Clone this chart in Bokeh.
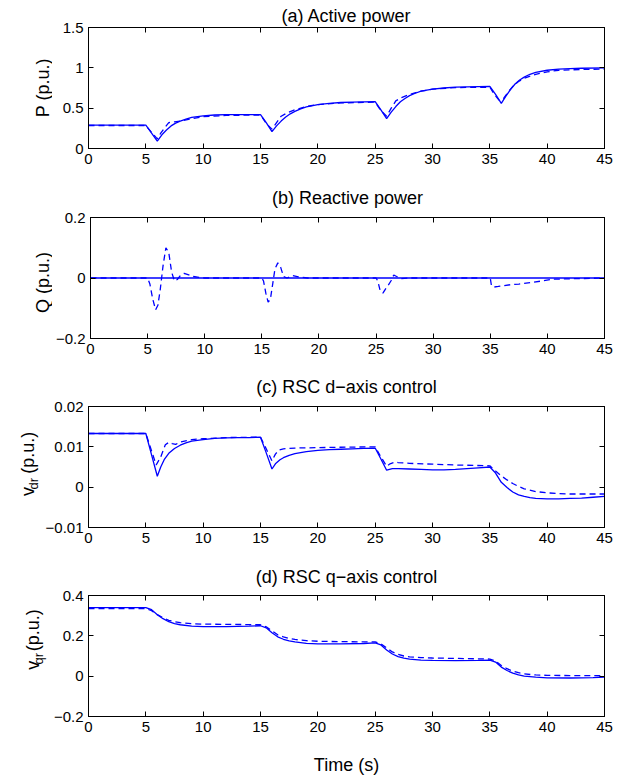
import math
from bokeh.plotting import figure
from bokeh.layouts import column, row
from bokeh.models import LinearAxis, FixedTicker, CustomJSTickFormatter, Range1d, Title
from bokeh.core.properties import value
from bokeh.embed import file_html
from bokeh.resources import INLINE

FONT = "Liberation Sans"
BLUE = "#0000ff"

# ---------------- data ----------------
x_ticks = [0, 5, 10, 15, 20, 25, 30, 35, 40, 45]

p_solid_t = [0, 5, 5.5, 6, 6.4, 6.8, 7.2, 7.6, 8, 8.5, 9, 10, 11, 12, 13, 15, 15.5, 16, 16.4, 16.8, 17.2, 17.6, 18,
             18.5, 19, 20, 21, 22, 23, 25, 25.5, 26, 26.4, 26.8, 27.2, 27.6, 28, 28.5, 29, 30, 31, 32, 33, 35, 35.5,
             36, 36.4, 36.8, 37.2, 37.6, 38, 38.5, 39, 40, 41, 42, 43, 45]
p_solid_v = [0.29, 0.29, 0.19, 0.09, 0.17, 0.23, 0.28, 0.315, 0.34, 0.365, 0.385, 0.405, 0.415, 0.42, 0.42, 0.42,
             0.32, 0.21, 0.28, 0.34, 0.39, 0.43, 0.46, 0.49, 0.515, 0.545, 0.56, 0.57, 0.575, 0.58, 0.48, 0.37, 0.45,
             0.52, 0.58, 0.62, 0.655, 0.685, 0.71, 0.735, 0.75, 0.76, 0.765, 0.77, 0.67, 0.56, 0.65, 0.73, 0.8, 0.85,
             0.885, 0.92, 0.945, 0.97, 0.985, 0.99, 0.995, 1.0]
p_dash_t = [0, 5, 5.5, 6, 6.3, 6.6, 7, 7.5, 8, 9, 10, 12, 15, 15.5, 16, 16.4, 16.8, 17.3, 18, 19, 20, 22, 25, 25.5,
            26, 26.4, 26.8, 27.3, 28, 29, 30, 32, 35, 35.4, 35.8, 36.2, 36.6, 37, 37.5, 38, 39, 40, 41, 43, 45]
p_dash_v = [0.285, 0.285, 0.2, 0.12, 0.19, 0.25, 0.32, 0.33, 0.34, 0.37, 0.395, 0.41, 0.415, 0.31, 0.24, 0.32, 0.4,
            0.44, 0.48, 0.52, 0.545, 0.565, 0.575, 0.47, 0.4, 0.5, 0.59, 0.63, 0.67, 0.71, 0.735, 0.755, 0.76, 0.67,
            0.6, 0.62, 0.7, 0.77, 0.83, 0.87, 0.92, 0.95, 0.97, 0.98, 0.985]

q_solid_t = [0, 5, 6, 7, 15, 16, 25, 26, 35, 36, 45]
q_solid_v = [0, 0, 0, 0, 0, 0, 0, 0, 0, 0, 0]
q_dash_t = [0, 5, 5.2, 5.45, 5.7, 5.9, 6.1, 6.35, 6.6, 6.85, 7.1, 7.35, 7.6, 7.9, 8.2, 8.6, 9, 9.5, 10, 15, 15.15,
            15.35, 15.55, 15.75, 15.95, 16.15, 16.4, 16.65, 16.9, 17.2, 17.7, 18.2, 19, 25, 25.15, 25.35, 25.6,
            25.85, 26.05, 26.3, 26.55, 26.8, 27.2, 28, 35, 35.1, 35.3, 35.7, 36.2, 36.8, 37.5, 38.5, 39.5, 40.5, 45]
q_dash_v = [0, 0, -0.02, -0.07, -0.105, -0.09, -0.04, 0.04, 0.1, 0.085, 0.02, -0.01, -0.005, 0.01, 0.015, 0.01,
            0.005, 0.002, 0, 0, -0.01, -0.05, -0.08, -0.07, -0.02, 0.03, 0.05, 0.035, 0.005, 0.0, 0.008, 0.004, 0,
            0, -0.01, -0.04, -0.05, -0.035, -0.025, -0.01, 0.01, 0.005, -0.002, 0, 0, -0.025, -0.03, -0.028,
            -0.025, -0.022, -0.02, -0.015, -0.01, -0.004, 0]

vdr_solid_t = [0, 5, 5.5, 6, 6.3, 6.6, 7, 7.5, 8, 8.5, 9, 10, 11, 12, 13, 14, 15, 15.5, 16, 16.3, 16.7, 17, 17.5,
               18, 19, 20, 21, 22, 23, 24, 25, 25.5, 26, 26.5, 27, 28, 29, 30, 31, 32, 33, 34, 35, 35.5, 36, 36.5,
               37, 37.5, 38, 38.5, 39, 40, 41, 42, 43, 44, 45]
vdr_solid_v = [0.0133, 0.0133, 0.008, 0.0027, 0.005, 0.0068, 0.0084, 0.0096, 0.0104, 0.011, 0.0114, 0.0118, 0.0121,
               0.0122, 0.0123, 0.0123, 0.0124, 0.0085, 0.0045, 0.0058, 0.0068, 0.0073, 0.0079, 0.0083, 0.0088,
               0.0091, 0.0093, 0.0094, 0.0095, 0.0096, 0.0097, 0.007, 0.0042, 0.0046, 0.0046, 0.0045, 0.0044,
               0.0043, 0.0043, 0.0044, 0.0046, 0.0048, 0.005, 0.0035, 0.0012, -0.0001, -0.0012, -0.0019, -0.0023,
               -0.0026, -0.0028, -0.0029, -0.0029, -0.0028, -0.0027, -0.0025, -0.0023]
vdr_dash_t = [0, 5, 5.5, 5.9, 6.3, 6.7, 7, 7.3, 7.6, 8, 9, 10, 12, 15, 15.5, 16, 16.3, 16.6, 17, 18, 20, 22, 25,
              25.5, 26, 26.3, 26.7, 27, 28, 30, 32, 35, 35.5, 36, 36.5, 37, 37.5, 38, 39, 40, 41, 42, 45]
vdr_dash_v = [0.0133, 0.0133, 0.009, 0.0055, 0.0075, 0.0105, 0.0111, 0.0108, 0.0106, 0.0112, 0.0118, 0.012, 0.0123,
              0.0124, 0.0095, 0.0065, 0.0082, 0.0092, 0.0095, 0.0097, 0.0098, 0.0099, 0.01, 0.0075, 0.0052, 0.0058,
              0.0062, 0.0061, 0.0059, 0.0057, 0.0055, 0.0053, 0.004, 0.0028, 0.0018, 0.0009, 0.0002, -0.0004,
              -0.0011, -0.0014, -0.0016, -0.0017, -0.0017]

vqr_solid_t = [0, 5, 5.5, 6, 6.5, 7, 7.5, 8, 9, 10, 12, 14, 15, 15.5, 16, 16.5, 17, 17.5, 18, 19, 20, 22, 24, 25,
               25.5, 26, 26.5, 27, 27.5, 28, 29, 30, 32, 34, 35, 35.5, 36, 36.5, 37, 37.5, 38, 39, 40, 42, 44, 45]
vqr_solid_v = [0.34, 0.34, 0.33, 0.305, 0.285, 0.27, 0.26, 0.255, 0.248, 0.246, 0.246, 0.248, 0.25, 0.24, 0.215,
               0.195, 0.183, 0.175, 0.17, 0.163, 0.16, 0.16, 0.162, 0.165, 0.155, 0.13, 0.11, 0.097, 0.09, 0.085,
               0.08, 0.078, 0.077, 0.078, 0.08, 0.07, 0.045, 0.028, 0.015, 0.006, 0.0, -0.005, -0.008, -0.009,
               -0.007, -0.005]
vqr_dash_t = [0, 5, 5.5, 6, 6.5, 7, 7.5, 8, 9, 10, 12, 15, 15.5, 16, 16.5, 17, 17.5, 18, 19, 20, 22, 25, 25.5, 26,
              26.5, 27, 27.5, 28, 29, 30, 32, 35, 35.5, 36, 36.5, 37, 37.5, 38, 39, 40, 42, 45]
vqr_dash_v = [0.335, 0.335, 0.325, 0.305, 0.29, 0.277, 0.27, 0.265, 0.26, 0.258, 0.257, 0.255, 0.245, 0.225, 0.205,
              0.195, 0.187, 0.182, 0.176, 0.173, 0.171, 0.17, 0.16, 0.14, 0.12, 0.108, 0.1, 0.096, 0.092, 0.09,
              0.088, 0.085, 0.075, 0.053, 0.037, 0.025, 0.017, 0.011, 0.006, 0.004, 0.003, 0.002]

panels = [
    dict(title="(a) Active power", ylab=("P (p.u.)", "", ""), yr=(0, 1.5), yt=[0, 0.5, 1, 1.5],
         solid=(p_solid_t, p_solid_v), dash=(p_dash_t, p_dash_v), lw=52, lx=42),
    dict(title="(b) Reactive power", ylab=("Q (p.u.)", "", ""), yr=(-0.2, 0.2), yt=[-0.2, 0, 0.2],
         solid=(q_solid_t, q_solid_v), dash=(q_dash_t, q_dash_v), lw=52, lx=42),
    dict(title="(c) RSC d\u2212axis control", ylab=("v", "dr", "(p.u.)"), yr=(-0.01, 0.02),
         yt=[-0.01, 0, 0.01, 0.02], solid=(vdr_solid_t, vdr_solid_v), dash=(vdr_dash_t, vdr_dash_v),
         lw=42, lx=27),
    dict(title="(d) RSC q\u2212axis control", ylab=("v", "qr", "(p.u.)"), yr=(-0.2, 0.4),
         yt=[-0.2, 0, 0.2, 0.4], solid=(vqr_solid_t, vqr_solid_v), dash=(vqr_dash_t, vqr_dash_v),
         lw=50, lx=32),
]

FRAME_L = 88
FRAME_W = 516
RIGHT_B = 22
FRAME_H = 121
TICK_FS = "15px"
LAB_FS = 18
SUB_FS = 13

fmt = CustomJSTickFormatter(code="""
if (tick < 0) { return "\u2212" + String(-tick); }
return String(tick);
""")
blank = CustomJSTickFormatter(code='return "";')

tops = [27, 41, 41, 41]
bottoms = [28, 27, 27, 66]
standoffs = [4, 19, 19, 18]

rows = []
for i, pn in enumerate(panels):
    h = tops[i] + FRAME_H + bottoms[i]
    lw = pn["lw"]
    p = figure(width=FRAME_L - lw + FRAME_W + RIGHT_B, height=h, output_backend="svg", toolbar_location=None,
               x_range=Range1d(0, 45), y_range=Range1d(*pn["yr"]),
               min_border_left=FRAME_L - lw, min_border_right=RIGHT_B, min_border_top=tops[i],
               min_border_bottom=bottoms[i])
    p.grid.visible = False
    p.outline_line_color = "black"
    p.outline_line_width = 1

    xax = p.xaxis[0]
    yax = p.yaxis[0]
    for ax, ticks in ((xax, x_ticks), (yax, pn["yt"])):
        ax.ticker = FixedTicker(ticks=ticks)
        ax.formatter = fmt
        ax.major_tick_in = 5
        ax.major_tick_out = 0
        ax.minor_tick_in = 0
        ax.minor_tick_out = 0
        ax.major_label_text_font = FONT
        ax.major_label_text_font_size = TICK_FS
        ax.major_label_text_color = "black"
        ax.axis_line_color = "black"
        ax.major_tick_line_color = "black"
        ax.major_label_standoff = 5
    for loc, ticks in (("above", x_ticks), ("right", pn["yt"])):
        ax = LinearAxis(ticker=FixedTicker(ticks=ticks), formatter=blank,
                        major_tick_in=5, major_tick_out=0, minor_tick_in=0, minor_tick_out=0,
                        major_label_text_font_size="0px", major_label_standoff=0,
                        axis_line_color="black", major_tick_line_color="black")
        p.add_layout(ax, loc)

    p.add_layout(Title(text=pn["title"], align="center", text_font=FONT, text_font_size=f"{LAB_FS}px",
                       text_font_style="normal", text_color="black", standoff=standoffs[i]), "above")

    st, sv = pn["solid"]
    dt, dv = pn["dash"]
    p.line(st, sv, line_color=BLUE, line_width=1.3)
    p.line(dt, dv, line_color=BLUE, line_width=1.3, line_dash="6 4")

    if i == 3:
        xax.axis_label = "Time (s)"
        xax.axis_label_text_font = FONT
        xax.axis_label_text_font_size = f"{LAB_FS}px"
        xax.axis_label_text_font_style = "normal"
        xax.axis_label_text_color = "black"
        xax.axis_label_standoff = 20

    # y label drawn in a narrow companion figure (allows a subscript)
    lf = figure(width=lw, height=h, output_backend="svg", toolbar_location=None, min_border=0,
                x_range=Range1d(0, lw), y_range=Range1d(0, h), x_axis_type=None, y_axis_type=None)
    lf.outline_line_color = None
    lf.grid.visible = False
    main, sub, rest = pn["ylab"]
    yc = bottoms[i] + FRAME_H / 2
    xl = pn["lx"]
    rot = math.pi / 2
    tf = dict(text_font=value(FONT), text_color="black", angle=rot, text_baseline="middle")
    if not sub:
        lf.text(x=[xl], y=[yc], text=[main], text_align="center", text_font_size=value(f"{LAB_FS}px"), **tf)
    else:
        w_main = 0.5 * LAB_FS
        w_sub = 0.889 * SUB_FS
        gap = 14
        w_rest = 2.334 * LAB_FS
        total = w_main + w_sub + gap + w_rest
        y0 = yc - total / 2
        lf.text(x=[xl], y=[y0], text=[main], text_align="left", text_font_size=value(f"{LAB_FS}px"), **tf)
        lf.text(x=[xl + 6], y=[y0 + w_main + 1], text=[sub], text_align="left",
                text_font_size=value(f"{SUB_FS}px"), **tf)
        lf.text(x=[xl], y=[y0 + w_main + w_sub + gap], text=[rest], text_align="left",
                text_font_size=value(f"{LAB_FS}px"), **tf)

    rows.append(row(lf, p, spacing=0))

layout = column(*rows, spacing=0)
open("out.html", "w").write(file_html(layout, INLINE))
